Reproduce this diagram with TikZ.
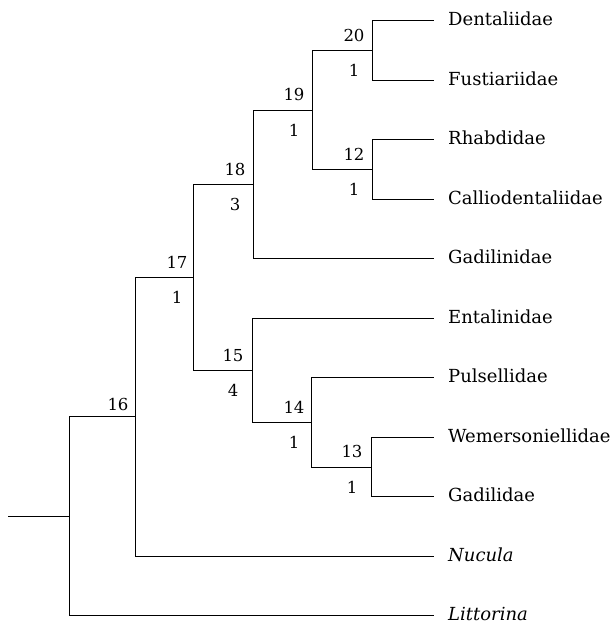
\documentclass[tikz,border=0pt]{standalone}
\usepackage{fontspec}
\setmainfont{DejaVu Serif}
\usetikzlibrary{calc}

\tikzset{
  taxon/.style={anchor=west,inner xsep=14pt,inner ysep=0pt,text depth=3.5pt,font=\fontsize{18}{21}\selectfont},
  upnum/.style={anchor=base,inner sep=0pt,font=\fontsize{16.5}{19}\selectfont},
  lownum/.style={anchor=base,inner sep=0pt,font=\fontsize{16.5}{19}\selectfont},
  branch/.style={line width=0.9pt}
}

\begin{document}
\begin{tikzpicture}[x=1pt,y=-1pt] %[scale=0.8]
    \useasboundingbox (0,0) rectangle (616,625);
    % terminal taxa
    \node [taxon] (dent) at (434,20.7) {Dentaliidae};
    \node [taxon] (fust) at (434,80.2) {Fustiariidae};
    \node [taxon] (rhab) at (434,139.7) {Rhabdidae};
    \node [taxon] (call) at (434,199.2) {Calliodentaliidae};
    \node [taxon] (gdln) at (434,258.7) {Gadilinidae};
    \node [taxon] (enta) at (434,318.2) {Entalinidae};
    \node [taxon] (puls) at (434,377.7) {Pulsellidae};
    \node [taxon] (wemr) at (434,437.2) {Wemersoniellidae};
    \node [taxon] (gadi) at (434,496.7) {Gadilidae};
    \node [taxon] (nucu) at (434,556.2) {\itshape Nucula};
    \node [taxon] (litt) at (434,615.2) {\itshape Littorina};
    % internal nodes
    \coordinate (c20) at (372,50.45);
    \coordinate (c12) at (372,169.45);
    \coordinate (c19) at (312,109.95);
    \coordinate (c18) at (253,184.3);
    \coordinate (c13) at (371,466.95);
    \coordinate (c14) at (311,422.3);
    \coordinate (c15) at (252,370.25);
    \coordinate (c17) at (193,277.3);
    \coordinate (c16) at (135,416.75);
    \coordinate (c0) at (69,516.2);
    \coordinate (stem) at (8,516.2);
    % branches
    \draw [branch] (c20) |- (dent.west);
    \draw [branch] (c20) |- (fust.west);
    \draw [branch] (c12) |- (rhab.west);
    \draw [branch] (c12) |- (call.west);
    \draw [branch] (c19) |- (c20);
    \draw [branch] (c19) |- (c12);
    \draw [branch] (c18) |- (c19);
    \draw [branch] (c18) |- (gdln.west);
    \draw [branch] (c13) |- (wemr.west);
    \draw [branch] (c13) |- (gadi.west);
    \draw [branch] (c14) |- (puls.west);
    \draw [branch] (c14) |- (c13);
    \draw [branch] (c15) |- (enta.west);
    \draw [branch] (c15) |- (c14);
    \draw [branch] (c17) |- (c18);
    \draw [branch] (c17) |- (c15);
    \draw [branch] (c16) |- (c17);
    \draw [branch] (c16) |- (nucu.west);
    \draw [branch] (c0) |- (c16);
    \draw [branch] (c0) |- (litt.west);
    \draw [branch] (stem) -- (c0);
    % node numbers and branch support
    \node [upnum] (n20) at ($(c20)+(-18,-9)$) {20};
    \node [lownum] (s20) at ($(c20)+(-18,26.5)$) {1};
    \node [upnum] (n12) at ($(c12)+(-18,-9)$) {12};
    \node [lownum] (s12) at ($(c12)+(-18,26.5)$) {1};
    \node [upnum] (n19) at ($(c19)+(-18,-9)$) {19};
    \node [lownum] (s19) at ($(c19)+(-18,26.5)$) {1};
    \node [upnum] (n18) at ($(c18)+(-18,-9)$) {18};
    \node [lownum] (s18) at ($(c18)+(-18,26.5)$) {3};
    \node [upnum] (n17) at ($(c17)+(-16,-9)$) {17};
    \node [lownum] (s17) at ($(c17)+(-16,26.5)$) {1};
    \node [upnum] (n15) at ($(c15)+(-19,-9)$) {15};
    \node [lownum] (s15) at ($(c15)+(-19,26.5)$) {4};
    \node [upnum] (n14) at ($(c14)+(-17,-9)$) {14};
    \node [lownum] (s14) at ($(c14)+(-17,26.5)$) {1};
    \node [upnum] (n13) at ($(c13)+(-19,-9)$) {13};
    \node [lownum] (s13) at ($(c13)+(-19,26.5)$) {1};
    \node [upnum] (n16) at ($(c16)+(-17,-6)$) {16};
\end{tikzpicture}
\end{document}
